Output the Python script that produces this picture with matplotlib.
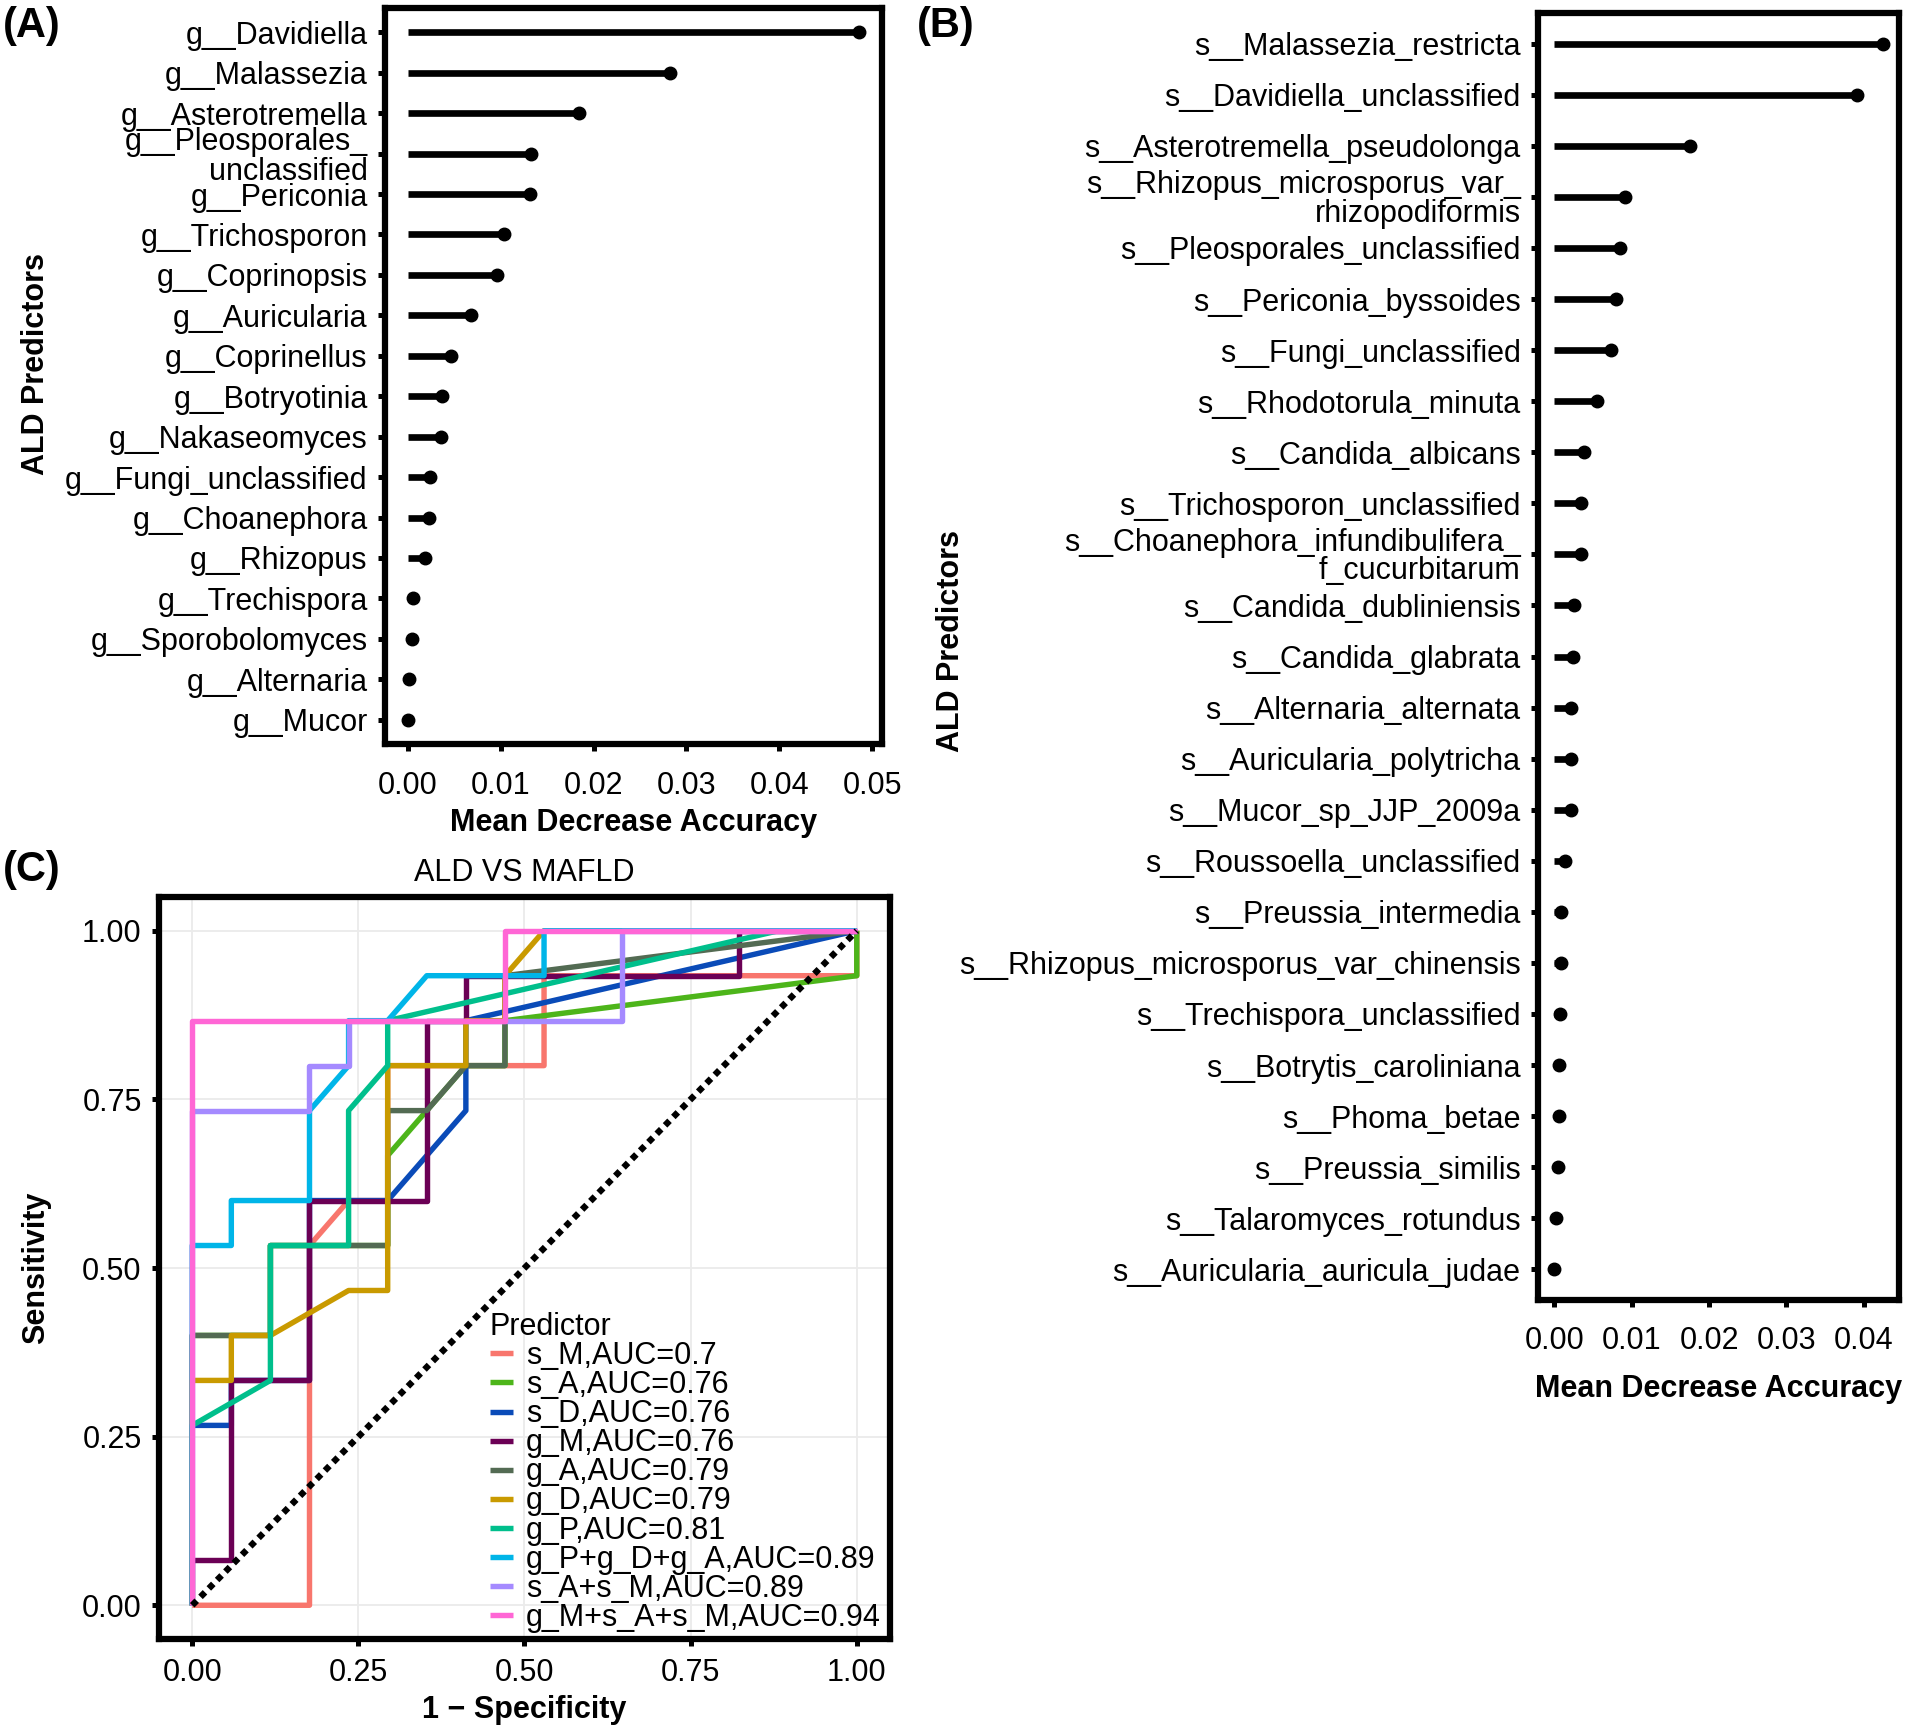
import numpy as np
import matplotlib
matplotlib.use("Agg")
import matplotlib.pyplot as plt

plt.rcParams['font.family'] = ['Liberation Sans', 'DejaVu Sans']

# ---------------- data ----------------
genus_names = ["g__Davidiella", "g__Malassezia", "g__Asterotremella",
               "g__Pleosporales_\nunclassified", "g__Periconia", "g__Trichosporon",
               "g__Coprinopsis", "g__Auricularia", "g__Coprinellus", "g__Botryotinia",
               "g__Nakaseomyces", "g__Fungi_unclassified", "g__Choanephora",
               "g__Rhizopus", "g__Trechispora", "g__Sporobolomyces",
               "g__Alternaria", "g__Mucor"]
genus_mda = [0.0486, 0.0282, 0.0184, 0.0133, 0.0132, 0.0104, 0.0096, 0.0068,
             0.0047, 0.0037, 0.0036, 0.0024, 0.0023, 0.0019, 0.0006, 0.00045,
             0.0002, 0.0000]

species_names = ["s__Malassezia_restricta", "s__Davidiella_unclassified",
                 "s__Asterotremella_pseudolonga",
                 "s__Rhizopus_microsporus_var_\nrhizopodiformis",
                 "s__Pleosporales_unclassified", "s__Periconia_byssoides",
                 "s__Fungi_unclassified", "s__Rhodotorula_minuta",
                 "s__Candida_albicans", "s__Trichosporon_unclassified",
                 "s__Choanephora_infundibulifera_\nf_cucurbitarum",
                 "s__Candida_dubliniensis", "s__Candida_glabrata",
                 "s__Alternaria_alternata", "s__Auricularia_polytricha",
                 "s__Mucor_sp_JJP_2009a", "s__Roussoella_unclassified",
                 "s__Preussia_intermedia", "s__Rhizopus_microsporus_var_chinensis",
                 "s__Trechispora_unclassified", "s__Botrytis_caroliniana",
                 "s__Phoma_betae", "s__Preussia_similis",
                 "s__Talaromyces_rotundus", "s__Auricularia_auricula_judae"]
species_mda = [0.04245, 0.0391, 0.01757, 0.0091, 0.00846, 0.00796, 0.00731,
               0.0055, 0.00378, 0.00345, 0.00345, 0.00255, 0.00238, 0.0022,
               0.0022, 0.0021, 0.0014, 0.0009, 0.0008, 0.0007, 0.0006, 0.0006,
               0.0004, 0.0002, 0.0000]

# ROC curves: false positives (of 17 controls) and true positives (of 15 cases)
n_neg = 17
n_pos = 15
roc_labels = ["s_M,AUC=0.7", "s_A,AUC=0.76", "s_D,AUC=0.76", "g_M,AUC=0.76",
              "g_A,AUC=0.79", "g_D,AUC=0.79", "g_P,AUC=0.81",
              "g_P+g_D+g_A,AUC=0.89", "s_A+s_M,AUC=0.89", "g_M+s_A+s_M,AUC=0.94"]
roc_colors = ["#F8766D", "#4DB51A", "#0A4BB8", "#6B0055", "#536B53",
              "#C99A00", "#00BF8C", "#00B5E8", "#A58AFF", "#FF66D5"]
fp_sM = [0, 3, 3, 4, 5, 5, 8, 9, 9, 17, 17]
tp_sM = [0, 0, 8, 9, 9, 12, 12, 12, 14, 14, 15]
fp_sA = [0, 0, 1, 2, 2, 4, 5, 5, 6, 7, 8, 8, 17, 17]
tp_sA = [0, 6, 6, 6, 8, 8, 8, 10, 11, 12, 12, 13, 14, 15]
fp_sD = [0, 0, 1, 1, 3, 3, 5, 7, 7, 17]
tp_sD = [0, 4, 4, 5, 5, 9, 9, 11, 13, 15]
fp_gM = [0, 0, 1, 1, 3, 3, 6, 6, 7, 7, 14, 14, 17]
tp_gM = [0, 1, 1, 5, 5, 9, 9, 13, 13, 14, 14, 15, 15]
fp_gA = [0, 0, 1, 2, 2, 5, 5, 6, 7, 8, 8, 17]
tp_gA = [0, 6, 6, 6, 8, 8, 11, 11, 12, 12, 14, 15]
fp_gD = [0, 0, 1, 1, 2, 4, 5, 5, 7, 7, 8, 8, 9, 17]
tp_gD = [0, 5, 5, 6, 6, 7, 7, 12, 12, 13, 13, 14, 15, 15]
fp_gP = [0, 0, 2, 2, 4, 4, 5, 5, 15, 17]
tp_gP = [0, 4, 5, 8, 8, 11, 12, 13, 15, 15]
fp_gPDA = [0, 0, 1, 1, 3, 3, 4, 4, 5, 6, 9, 9, 17]
tp_gPDA = [0, 8, 8, 9, 9, 11, 12, 13, 13, 14, 14, 15, 15]
fp_sAM = [0, 0, 3, 3, 4, 4, 11, 11, 17]
tp_sAM = [0, 11, 11, 12, 12, 13, 13, 15, 15]
fp_gMsAM = [0, 0, 8, 8, 17]
tp_gMsAM = [0, 13, 13, 15, 15]
roc_fp = [fp_sM, fp_sA, fp_sD, fp_gM, fp_gA, fp_gD, fp_gP, fp_gPDA, fp_sAM, fp_gMsAM]
roc_tp = [tp_sM, tp_sA, tp_sD, tp_gM, tp_gA, tp_gD, tp_gP, tp_gPDA, tp_sAM, tp_gMsAM]

# ---------------- figure ----------------
W, H = 1906, 1727
fig = plt.figure(figsize=(W / 100, H / 100), dpi=100)


def rect(l, t, r, b):
    return [l / W, 1 - b / H, (r - l) / W, (b - t) / H]


FS = 22
FRAME_LW = 4.5


def style_frame(ax, xpad):
    for s in ax.spines.values():
        s.set_linewidth(FRAME_LW)
        s.set_color('black')
    ax.tick_params(axis='both', length=5, width=3.6, color='black',
                   labelsize=FS, labelcolor='black')
    ax.tick_params(axis='x', pad=xpad)
    ax.tick_params(axis='y', pad=7.5)


def lollipop(ax, names, vals, xticks, xpad, lsp):
    n = len(names)
    y = np.arange(n, 0, -1)
    lc = ax.hlines(y, 0, vals, color='black', lw=4.8)
    lc.set_capstyle('butt')
    ax.plot(vals, y, 'o', color='black', ms=9, zorder=3)
    ax.set_yticks(y)
    ax.set_yticklabels(names)
    for t in ax.get_yticklabels():
        t.set_linespacing(lsp)
    ax.set_ylim(0.4, n + 0.6)
    mx = max(vals)
    ax.set_xlim(-0.05 * mx, 1.05 * mx)
    ax.set_xticks(xticks)
    ax.set_xticklabels([f"{v:.2f}" for v in xticks])
    style_frame(ax, xpad)


# Panel A
A_l, A_t, A_r, A_b = 385, 8, 882, 744
axA = fig.add_axes(rect(A_l, A_t, A_r, A_b))
lollipop(axA, genus_names, genus_mda, [0, 0.01, 0.02, 0.03, 0.04, 0.05], 14.5, 1.0)
axA.set_xlabel("Mean Decrease Accuracy", fontsize=FS, fontweight='bold')
axA.xaxis.label.set_va('center')
axA.xaxis.set_label_coords(0.5, -(823 - A_b) / (A_b - A_t))
axA.set_ylabel("ALD Predictors", fontsize=FS, fontweight='bold')
axA.yaxis.label.set_va('center')
axA.yaxis.set_label_coords((36 - A_l) / (A_r - A_l), (A_b - 364) / (A_b - A_t))

# Panel B
B_l, B_t, B_r, B_b = 1538, 13, 1899, 1300
axB = fig.add_axes(rect(B_l, B_t, B_r, B_b))
lollipop(axB, species_names, species_mda, [0, 0.01, 0.02, 0.03, 0.04], 14, 0.92)
axB.set_xlabel("Mean Decrease Accuracy", fontsize=FS, fontweight='bold')
axB.xaxis.label.set_va('center')
axB.xaxis.set_label_coords(0.5, -(1389 - B_b) / (B_b - B_t))
axB.set_ylabel("ALD Predictors", fontsize=FS, fontweight='bold')
axB.yaxis.label.set_va('center')
axB.yaxis.set_label_coords((951 - B_l) / (B_r - B_l), (B_b - 641) / (B_b - B_t))

# Panel C
C_l, C_t, C_r, C_b = 159, 897, 890, 1639
axC = fig.add_axes(rect(C_l, C_t, C_r, C_b))
handles = []
for fp, tp, lab, col in zip(roc_fp, roc_tp, roc_labels, roc_colors):
    x = np.array(fp) / n_neg
    y = np.array(tp) / n_pos
    ln, = axC.plot(x, y, color=col, lw=3.9, label=lab,
                   solid_capstyle='butt', solid_joinstyle='round')
    handles.append(ln)
axC.plot([0, 1], [0, 1], color='black', lw=4.6, linestyle=(0, (1, 0.85)), zorder=5)
axC.set_xlim(-0.05, 1.05)
axC.set_ylim(-0.05, 1.05)
ticks = [0, 0.25, 0.5, 0.75, 1.0]
axC.set_xticks(ticks)
axC.set_xticklabels([f"{v:.2f}" for v in ticks])
axC.set_yticks(ticks)
axC.set_yticklabels([f"{v:.2f}" for v in ticks])
axC.grid(True, color='#EBEBEB', lw=1.3)
axC.set_axisbelow(True)
style_frame(axC, 9)
axC.set_xlabel("1 \u2212 Specificity", fontsize=FS, fontweight='bold')
axC.xaxis.label.set_va('center')
axC.xaxis.set_label_coords(0.5, -(1710 - C_b) / (C_b - C_t))
axC.set_ylabel("Sensitivity", fontsize=FS, fontweight='bold')
axC.yaxis.label.set_va('center')
axC.yaxis.set_label_coords((36 - C_l) / (C_r - C_l), 0.5)
axC.text(0.5, 1 + (C_t - 873) / (C_b - C_t), "ALD VS MAFLD", transform=axC.transAxes,
         ha='center', va='center', fontsize=FS)
leg = axC.legend(handles=handles, title="Predictor", loc='upper left',
                 bbox_to_anchor=((490 - C_l) / (C_r - C_l), (C_b - 1312) / (C_b - C_t)),
                 frameon=False, fontsize=FS, title_fontsize=FS,
                 labelspacing=-0.03, handlelength=0.75, handletextpad=0.42,
                 borderpad=0, borderaxespad=0, alignment='left')
for lh in leg.get_lines():
    lh.set_linewidth(3.9)

# panel labels
fig.text(3 / W, 1 - 6 / H, "(A)", fontsize=30, fontweight='bold', va='top', ha='left')
fig.text(917 / W, 1 - 6 / H, "(B)", fontsize=30, fontweight='bold', va='top', ha='left')
fig.text(3 / W, 1 - 850 / H, "(C)", fontsize=30, fontweight='bold', va='top', ha='left')

fig.savefig("out.png", dpi=100)
